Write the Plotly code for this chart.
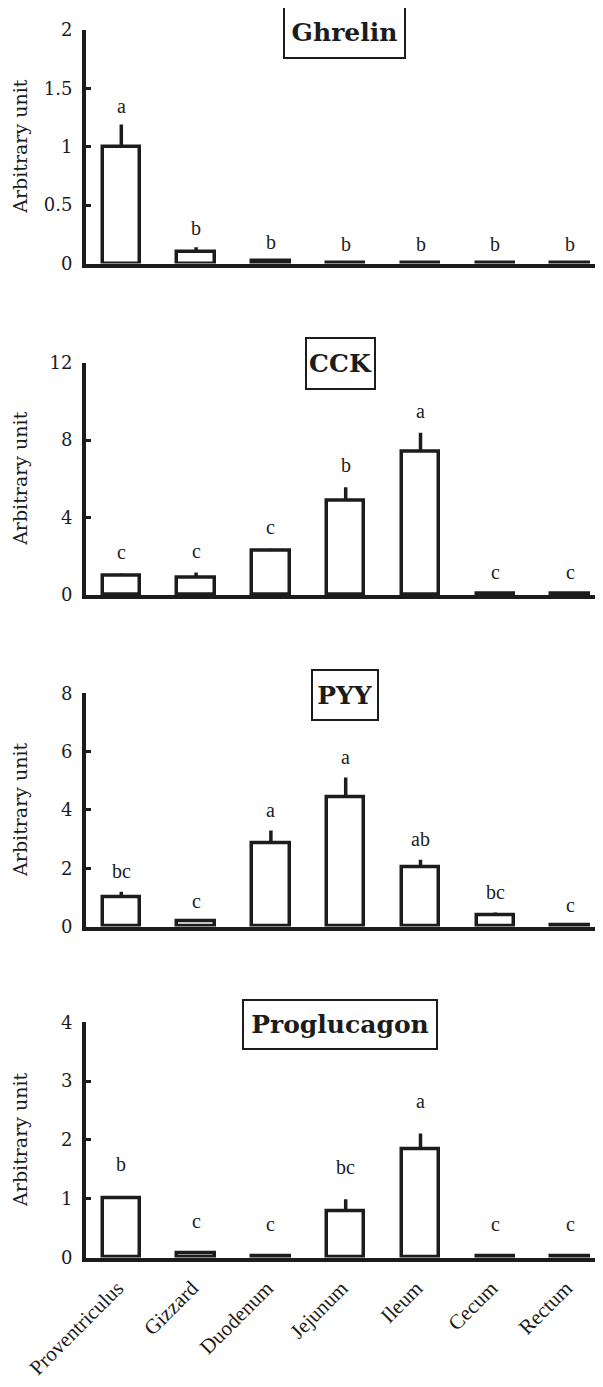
import plotly.graph_objects as go

# ---------------- data ----------------
categories = ["Proventriculus", "Gizzard", "Duodenum", "Jejunum", "Ileum", "Cecum", "Rectum"]

ghrelin_mean = [1.00, 0.10, 0.02, 0.008, 0.008, 0.008, 0.008]
ghrelin_sem = [0.19, 0.04, 0.0, 0.0, 0.0, 0.0, 0.0]
ghrelin_letters = ["a", "b", "b", "b", "b", "b", "b"]
ghrelin_ticks = [0, 0.5, 1, 1.5, 2]

cck_mean = [1.00, 0.89, 2.27, 4.87, 7.40, 0.07, 0.07]
cck_sem = [0.11, 0.27, 0.12, 0.69, 0.98, 0.0, 0.0]
cck_letters = ["c", "c", "c", "b", "a", "c", "c"]
cck_ticks = [0, 4, 8, 12]

pyy_mean = [1.00, 0.17, 2.86, 4.43, 2.02, 0.37, 0.03]
pyy_sem = [0.19, 0.0, 0.43, 0.68, 0.27, 0.11, 0.0]
pyy_letters = ["bc", "c", "a", "a", "ab", "bc", "c"]
pyy_ticks = [0, 2, 4, 6, 8]

proglucagon_mean = [1.00, 0.07, 0.02, 0.79, 1.84, 0.02, 0.02]
proglucagon_sem = [0.04, 0.0, 0.0, 0.20, 0.27, 0.0, 0.0]
proglucagon_letters = ["b", "c", "c", "bc", "a", "c", "c"]
proglucagon_ticks = [0, 1, 2, 3, 4]

titles = ["Ghrelin", "CCK", "PYY", "Proglucagon"]

# ---------------- layout helpers ----------------
OFF = 8                      # page body margin
W, H = 603 - OFF, 1387 - OFF
ML = 86 - OFF
PW = W - ML
INK = "#1c1c1c"


def py(p):
    return 1 - (p - OFF) / H


def pxx(p):
    return (p - OFF - ML) / PW


panels = [
    dict(mean=ghrelin_mean, sem=ghrelin_sem, letters=ghrelin_letters, ticks=ghrelin_ticks,
         top=30, bottom=263.5, title=titles[0], box=(344, 33, 123, 53), lshift=19),
    dict(mean=cck_mean, sem=cck_sem, letters=cck_letters, ticks=cck_ticks,
         top=362.7, bottom=595, title=titles[1], box=(340, 363.3, 71, 53), lshift=22),
    dict(mean=pyy_mean, sem=pyy_sem, letters=pyy_letters, ticks=pyy_ticks,
         top=693.3, bottom=926.5, title=titles[2], box=(345, 695.3, 68, 52), lshift=21),
    dict(mean=proglucagon_mean, sem=proglucagon_sem, letters=proglucagon_letters, ticks=proglucagon_ticks,
         top=1022.3, bottom=1257.5, title=titles[3], box=(340.4, 1024.5, 196, 51), lshift=32),
]

# category 0 centre at page x 121.3, spacing 74.8 px
x_lo = (ML + OFF - 121.3) / 74.8
x_hi = (603 - 121.3) / 74.8

xpos = list(range(len(categories)))
fig = go.Figure()
annotations = []
layout = {}

for i, p in enumerate(panels):
    n = "" if i == 0 else str(i + 1)
    xa, ya = "x" + n, "y" + n
    fig.add_trace(go.Bar(
        x=xpos, y=p["mean"], xaxis=xa, yaxis=ya, width=0.5,
        marker=dict(color="white", line=dict(color=INK, width=3.5)),
        error_y=dict(type="data", symmetric=False, array=p["sem"],
                     arrayminus=[0] * len(p["sem"]), thickness=3.5, width=0, color=INK),
        showlegend=False, hoverinfo="skip",
    ))
    layout["xaxis" + n] = dict(
        domain=[0, 1], anchor=ya, range=[x_lo, x_hi],
        showline=True, linewidth=4, linecolor=INK, showgrid=False, zeroline=False,
        ticks="", tickvals=xpos, ticktext=categories,
        showticklabels=(i == 3), tickangle=-45,
        ticklabelshift=-4, ticklabelstandoff=6,
        tickfont=dict(family="Liberation Serif", size=21, color=INK),
    )
    layout["yaxis" + n] = dict(
        domain=[py(p["bottom"]), py(p["top"])], anchor=xa,
        range=[0, p["ticks"][-1]], tickvals=p["ticks"],
        showline=True, linewidth=4, linecolor=INK, showgrid=False, zeroline=False,
        ticks="inside", ticklen=5, tickwidth=3, tickcolor=INK,
        tickfont=dict(family="DejaVu Serif", size=18, color=INK),
        ticklabelstandoff=6,
    )
    # significance letters
    for j, (m, s, t) in enumerate(zip(p["mean"], p["sem"], p["letters"])):
        annotations.append(dict(
            x=j, y=m + s, xref=xa, yref=ya, text=t, showarrow=False,
            yanchor="middle", yshift=p["lshift"],
            font=dict(family="Liberation Serif", size=20, color=INK),
        ))
    # y axis title
    annotations.append(dict(
        x=pxx(20), y=0.5, xref="paper", yref=ya + " domain", text="Arbitrary unit",
        textangle=-90, showarrow=False, xanchor="center", yanchor="middle",
        font=dict(family="DejaVu Serif", size=19, color=INK),
    ))
    # boxed title
    cx, cy, bw, bh = p["box"]
    annotations.append(dict(
        x=pxx(cx), y=py(cy), xref="paper", yref="paper", text="<b>%s</b>" % p["title"],
        showarrow=False, xanchor="center", yanchor="middle",
        width=bw - 4, height=bh - 4, borderpad=0, bordercolor=INK, borderwidth=2,
        bgcolor="white",
        font=dict(family="DejaVu Serif", size=25, color=INK),
    ))

fig.update_layout(
    width=W, height=H,
    margin=dict(l=ML, r=0, t=0, b=0, autoexpand=False),
    paper_bgcolor="white", plot_bgcolor="white",
    annotations=annotations, bargap=0,
    **layout,
)

fig.write_html("out.html")
